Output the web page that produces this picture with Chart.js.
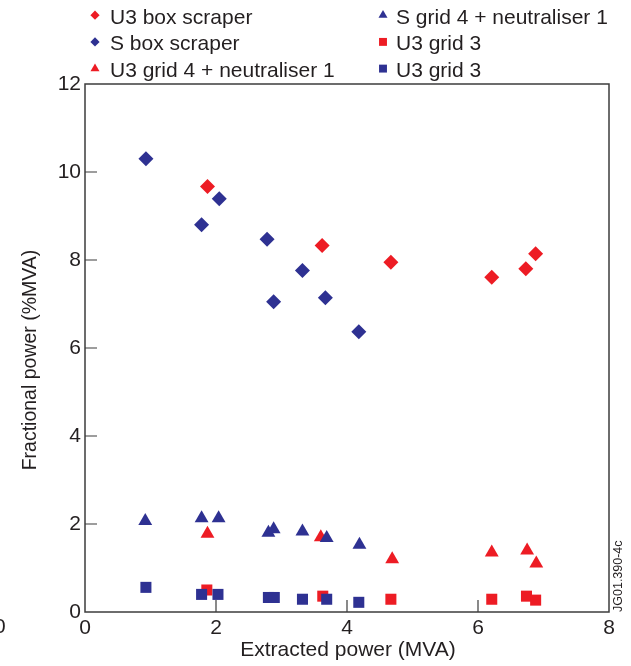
<!DOCTYPE html>
<html><head><meta charset="utf-8">
<script src="https://cdn.jsdelivr.net/npm/chart.js@4/dist/chart.umd.min.js"></script>
<style>
html,body{margin:0;padding:0;background:#fff;overflow:hidden}
#wrap{position:relative;width:631px;height:666px}
#stray{position:absolute;left:-6px;top:614px;font:21px "Liberation Sans",Arial,sans-serif;color:#231F20}
</style></head><body>
<div id="wrap"><canvas id="c" width="631" height="666"></canvas><div id="stray">0</div></div>
<script>
// ---- data ----
const seriesNames = ["U3 box scraper","S box scraper","U3 grid 4 + neutraliser 1","S grid 4 + neutraliser 1","U3 grid 3","U3 grid 3"];
const xTicks = [0,2,4,6,8];
const yTicks = [0,2,4,6,8,10,12];
const xTitle = "Extracted power (MVA)";
const yTitle = "Fractional power (%MVA)";
const figCode = "JG01.390-4c";

const u3BoxX = [1.87,3.62,4.67,6.21,6.73,6.88];
const u3BoxY = [9.67,8.33,7.95,7.61,7.80,8.14];
const sBoxX  = [0.93,1.78,2.05,2.78,2.88,3.32,3.67,4.18];
const sBoxY  = [10.30,8.80,9.39,8.47,7.05,7.76,7.14,6.37];
const u3GridNX = [1.87,3.60,4.69,6.21,6.75,6.89];
const u3GridNY = [1.78,1.70,1.20,1.35,1.40,1.10];
const sGridNX  = [0.92,1.78,2.04,2.80,2.88,3.32,3.69,4.19];
const sGridNY  = [2.07,2.13,2.13,1.80,1.88,1.83,1.68,1.53];
const u3Grid3X = [1.86,3.63,4.67,6.21,6.74,6.88];
const u3Grid3Y = [0.50,0.36,0.29,0.29,0.36,0.27];
const sGrid3X  = [0.93,1.78,2.03,2.80,2.89,3.32,3.69,4.18];
const sGrid3Y  = [0.56,0.40,0.40,0.33,0.33,0.29,0.29,0.22];

const RED = "#ED1C24", BLUE = "#2E3192", INK = "#231F20", AXIS = "#3c3c3c";
const FONT = '"Liberation Sans", Arial, Helvetica, sans-serif';

function pts(xs, ys){ return xs.map((x,i)=>({x:x, y:ys[i]})); }

const styles = [
  {c:RED,  s:"rectRot",  r:7.5, order:1},
  {c:BLUE, s:"rectRot",  r:7.5, order:0},
  {c:RED,  s:"triangle", r:8,   order:1},
  {c:BLUE, s:"triangle", r:8,   order:0},
  {c:RED,  s:"rect",     r:7.8, order:1},
  {c:BLUE, s:"rect",     r:7.8, order:0}
];
const legendR = {rectRot:4.6, triangle:5.2, rect:5.6};
const seriesData = [pts(u3BoxX,u3BoxY), pts(sBoxX,sBoxY), pts(u3GridNX,u3GridNY), pts(sGridNX,sGridNY), pts(u3Grid3X,u3Grid3Y), pts(sGrid3X,sGrid3Y)];

const datasets = seriesNames.map((n,i)=>({
  label:n, data:seriesData[i], order:styles[i].order,
  pointStyle:styles[i].s, pointRadius:styles[i].r, pointHoverRadius:styles[i].r,
  backgroundColor:styles[i].c, borderColor:styles[i].c, pointBorderWidth:0, showLine:false
}));

function drawMarker(ctx, style, x, y, r){
  ctx.beginPath();
  if (style === "rectRot"){
    ctx.moveTo(x, y-r); ctx.lineTo(x+r, y); ctx.lineTo(x, y+r); ctx.lineTo(x-r, y);
  } else if (style === "triangle"){
    const w = r*Math.sin(Math.PI/3);
    ctx.moveTo(x, y-r); ctx.lineTo(x+w, y+r/2); ctx.lineTo(x-w, y+r/2);
  } else {
    const h = r*Math.SQRT1_2; ctx.rect(x-h, y-h, 2*h, 2*h);
  }
  ctx.closePath(); ctx.fill();
}

const decor = {
  id:"decor",
  beforeDatasetsDraw(chart){
    const {ctx, chartArea:a, scales:{x, y}} = chart;
    ctx.save();
    ctx.strokeStyle = AXIS; ctx.lineWidth = 1.5;
    ctx.strokeRect(a.left, a.top, a.right-a.left, a.bottom-a.top);
    ctx.lineWidth = 1.2;
    ctx.beginPath();
    xTicks.slice(1,-1).forEach(v=>{ const px = x.getPixelForValue(v); ctx.moveTo(px, a.bottom); ctx.lineTo(px, a.bottom-12); });
    yTicks.slice(1,-1).forEach(v=>{ const py = y.getPixelForValue(v); ctx.moveTo(a.left, py); ctx.lineTo(a.left+12, py); });
    ctx.stroke();
    ctx.restore();
  },
  afterDraw(chart){
    const {ctx, chartArea:a} = chart;
    ctx.save();
    ctx.fillStyle = INK;
    ctx.font = "21px " + FONT;
    ctx.textAlign = "center"; ctx.textBaseline = "middle";
    ctx.fillText(xTitle, (a.left+a.right)/2 + 1, 650);
    ctx.font = "19.5px " + FONT;
    ctx.translate(31, 360); ctx.rotate(-Math.PI/2);
    ctx.fillText(yTitle, 0, 0);
    ctx.restore();
    // figure code
    ctx.save();
    ctx.fillStyle = INK; ctx.font = "12.5px " + FONT;
    ctx.translate(619, 612); ctx.rotate(-Math.PI/2);
    ctx.textAlign = "left"; ctx.textBaseline = "middle";
    ctx.fillText(figCode, 0, 0);
    ctx.restore();
    // legend (column-major, 3 rows)
    ctx.save();
    ctx.font = "21px " + FONT; ctx.textAlign = "left"; ctx.textBaseline = "alphabetic";
    chart.data.datasets.forEach((ds,i)=>{
      const col = Math.floor(i/3), row = i%3;
      const base = 23.5 + 26.7*row;
      const mx = [95, 383][col], tx = [110, 396][col];
      ctx.fillStyle = ds.backgroundColor;
      drawMarker(ctx, ds.pointStyle, mx, base-8.3, legendR[ds.pointStyle]);
      ctx.fillStyle = INK;
      ctx.fillText(ds.label, tx, base);
    });
    ctx.restore();
  }
};

new Chart(document.getElementById("c"), {
  type:"scatter",
  data:{datasets},
  options:{
    responsive:false, animation:false, devicePixelRatio:1,
    layout:{padding:{left:0, right:22, top:84, bottom:0}},
    plugins:{legend:{display:false}, tooltip:{enabled:false}, title:{display:false}},
    scales:{
      x:{type:"linear", min:0, max:8,
         afterBuildTicks:s=>{ s.ticks = xTicks.map(v=>({value:v})); },
         afterFit:s=>{ s.height = 54; },
         grid:{display:false, drawTicks:false}, border:{display:false},
         ticks:{color:INK, font:{family:FONT, size:21}, padding:4, maxRotation:0}},
      y:{type:"linear", min:0, max:12,
         afterBuildTicks:s=>{ s.ticks = yTicks.map(v=>({value:v})); },
         afterFit:s=>{ s.width = 85; },
         grid:{display:false, drawTicks:false}, border:{display:false},
         ticks:{color:INK, font:{family:FONT, size:21}, padding:4}}
    }
  },
  plugins:[decor]
});
</script>
</body></html>
